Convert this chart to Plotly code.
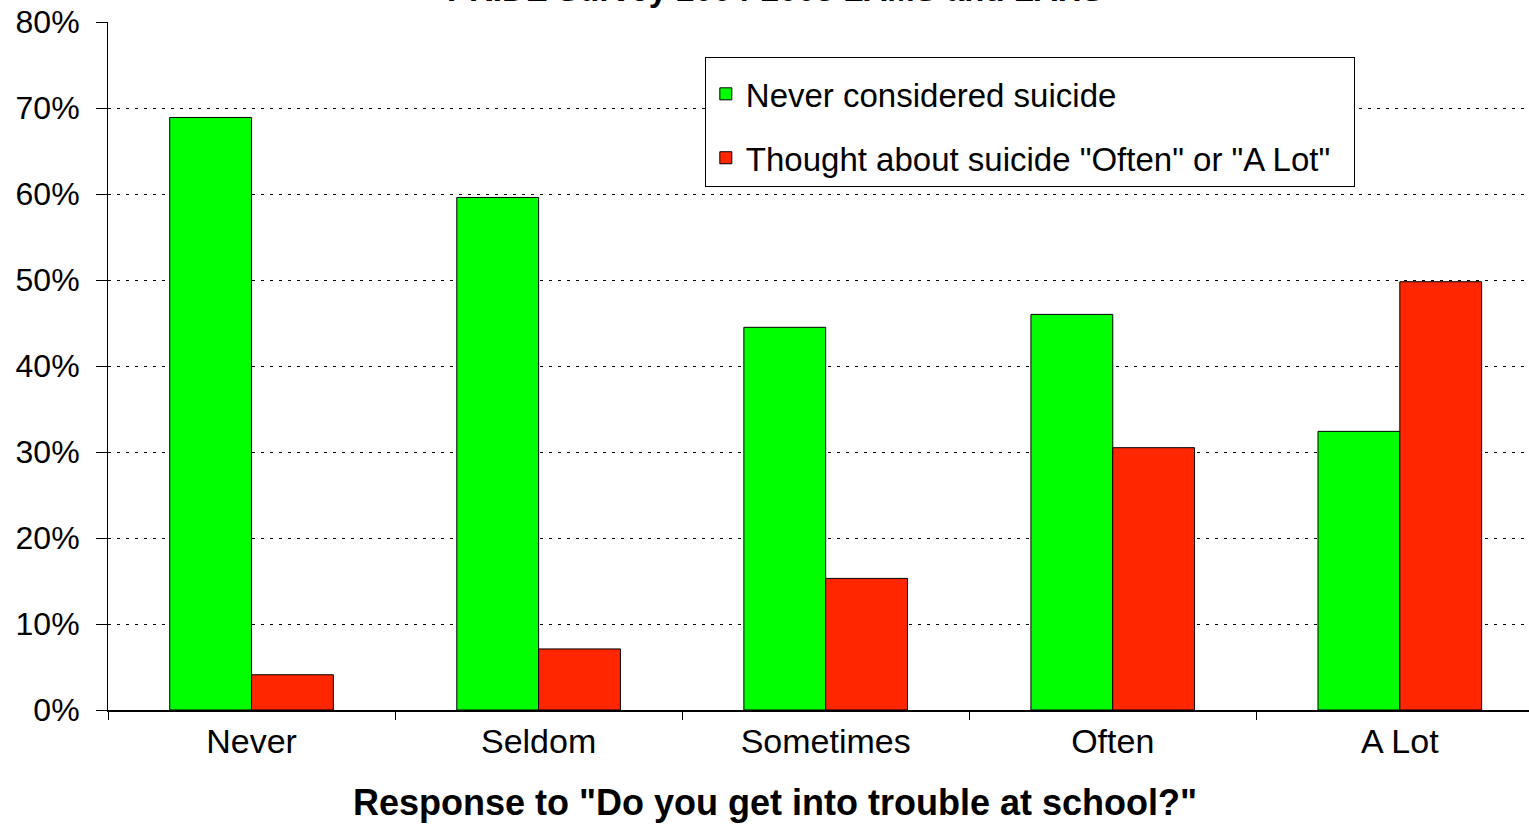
import plotly.graph_objects as go

categories = ["Never", "Seldom", "Sometimes", "Often", "A Lot"]
never_considered = [68.9, 59.6, 44.5, 46.0, 32.4]
thought_often = [4.1, 7.1, 15.3, 30.5, 49.8]
ytick_vals = [0, 10, 20, 30, 40, 50, 60, 70, 80]
ytick_text = [f"{v}%" for v in ytick_vals]

FONT = "Liberation Sans, Arial, sans-serif"

fig = go.Figure()
fig.add_trace(go.Bar(
    x=categories, y=never_considered, name="Never considered suicide",
    marker=dict(color="#00FF00", line=dict(color="black", width=1)),
    legendgroup="a",
))
fig.add_trace(go.Bar(
    x=categories, y=thought_often,
    name='Thought about suicide "Often" or "A Lot"\u00a0\u00a0',
    marker=dict(color="#FF2600", line=dict(color="black", width=1)),
    legendgroup="b",
))

fig.update_layout(
    width=1529, height=838,
    margin=dict(l=108, r=0, t=22, b=128),
    paper_bgcolor="white", plot_bgcolor="white",
    barmode="group", bargap=0.43, bargroupgap=0,
    font=dict(family=FONT, size=30, color="black"),
    showlegend=True,
    legend=dict(
        x=0.42, y=0.949, xanchor="left", yanchor="top",
        bgcolor="white", bordercolor="black", borderwidth=1,
        font=dict(size=33), tracegroupgap=18, traceorder="grouped",
        itemwidth=30,
        title=dict(text=" ", font=dict(size=6)),
    ),
    xaxis=dict(
        range=[-0.5, 4.45], showline=True, linecolor="black", linewidth=1.5,
        ticks="outside", tickson="boundaries", ticklen=8, tickcolor="black",
        showgrid=False, tickfont=dict(size=34),
    ),
    yaxis=dict(
        range=[0, 80], tickvals=ytick_vals, ticktext=ytick_text,
        showline=True, linecolor="black", linewidth=1,
        ticks="outside", ticklen=11, tickcolor="black",
        showgrid=True, gridcolor="black", gridwidth=1, griddash="3px,6px",
        zeroline=False, tickfont=dict(size=32), ticklabelstandoff=10,
    ),
)

fig.add_annotation(
    text="<b>PRIDE Survey 2004-2005 LAMS and LAHS</b>",
    xref="paper", yref="paper", x=(775 - 108) / 1421, y=1,
    xanchor="center", yanchor="bottom",
    yshift=12, showarrow=False, font=dict(size=33),
)
fig.add_annotation(
    text='<b>Response to "Do you get into trouble at school?"</b>',
    xref="paper", yref="paper", x=(775 - 108) / 1421, y=0,
    xanchor="center", yanchor="middle",
    yshift=-92, showarrow=False, font=dict(size=36),
)

fig.write_html(
    "out.html",
    config={"displayModeBar": False},
    post_script="document.body.style.margin='0';document.body.style.overflow='hidden';",
)
